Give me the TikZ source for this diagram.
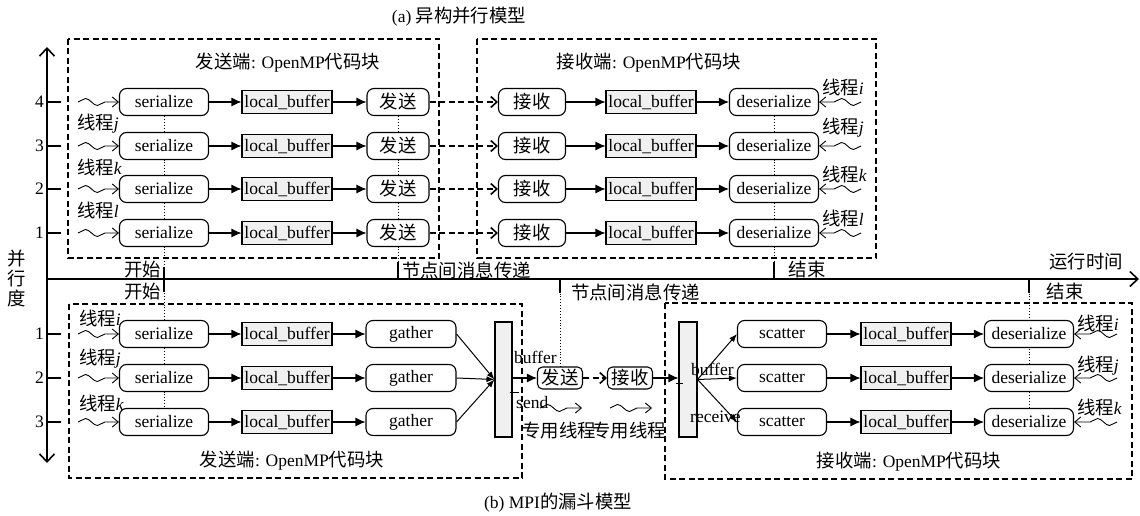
\documentclass[tikz,border=0pt]{standalone}
\usepackage{fontspec}
\setmainfont{Liberation Serif}
\newfontfamily\cjk[Scale=1.05]{Noto Sans CJK SC}
\usetikzlibrary{arrows.meta,decorations.pathmorphing,positioning,backgrounds}
\newcommand{\zh}[1]{{\cjk #1}}
\tikzset{
  proc/.style={draw, rounded corners=7pt, line width=1.1pt, fill=white, minimum width=89pt, minimum height=27pt, inner sep=1pt},
  buf/.style={draw, line width=1.1pt, fill=gray!12, minimum width=90pt, minimum height=23pt, inner sep=1pt},
  bar/.style={draw, line width=1.1pt, fill=gray!12, minimum width=17pt, minimum height=115pt, inner sep=0pt},
  blk/.style={draw, line width=1.6pt, dash pattern=on 6pt off 3.5pt},
  flow/.style={-{Latex[length=10pt,width=9pt]}, line width=1.1pt},
  fan/.style={-{Latex[length=8pt,width=6pt]}, line width=1pt},
  msg/.style={-{Straight Barb[length=6pt,width=11pt]}, line width=1.6pt, dash pattern=on 6pt off 3.5pt},
  thr/.style={-{Straight Barb[length=6pt,width=10pt]}, line width=0.9pt, decorate,
    decoration={snake, amplitude=3.5pt, segment length=24pt, post length=6pt}},
  axis/.style={line width=1.6pt},
  tk/.style={line width=1.6pt},
  guide/.style={dotted, line width=0.9pt},
  lbl/.style={inner sep=1pt},
}
\begin{document}
\begin{tikzpicture}[x=1pt, y=-1pt, font=\fontsize{17.5}{20}\selectfont]
\useasboundingbox (0,0) rectangle (1140,516);

% axes
\coordinate (ytop) at (47,47);
\coordinate (ybot) at (47,463);
\coordinate (o) at (47,279);
\coordinate (xend) at (1139,279);
\draw[axis, {Straight Barb[length=8pt,width=15pt]}-{Straight Barb[length=8pt,width=15pt]}] (ybot) -- (ytop);
\draw[axis, -{Straight Barb[length=8pt,width=15pt]}] (o) -- (xend);
\node[lbl, align=center] (pdeg) at (17,278) {\zh{并}\\\zh{行}\\\zh{度}};
\node[lbl] (rtime) at (1086,262) {\zh{运行时间}};

% captions
\node[lbl] (capa) at (459,17) {(a) \zh{异构并行模型}};
\node[lbl] (capb) at (558,503) {(b) MPI\zh{的漏斗模型}};

% code blocks
\draw[blk] (68,39) rectangle (439,258);
\draw[blk] (477,39) rectangle (876,258);
\draw[blk] (69,304) rectangle (522,478);
\draw[blk] (665,303) rectangle (1132,479);
\node[lbl] (ta1) at (288,63) {\zh{发送端}: OpenMP\zh{代码块}};
\node[lbl] (ta2) at (649,63) {\zh{接收端}: OpenMP\zh{代码块}};
\node[lbl] (tb1) at (292,461) {\zh{发送端}: OpenMP\zh{代码块}};
\node[lbl] (tb2) at (909,462) {\zh{接收端}: OpenMP\zh{代码块}};

% (a) heterogeneous model
\foreach \r/\y in {4/102,3/146,2/189,1/233}{
  \draw[tk] (47,\y) -- (61,\y);
  \node[lbl, anchor=east] (ya\r) at (45,\y) {\r};
  \node[proc] (as\r) at (164,\y) {serialize};
  \node[buf] (ab\r) at (287,\y) {local\_buffer};
  \node[proc, minimum width=62pt] (asd\r) at (398,\y) {\zh{发送}};
  \node[proc, minimum width=67pt] (arc\r) at (532,\y) {\zh{接收}};
  \node[buf] (abr\r) at (651,\y) {local\_buffer};
  \node[proc] (ad\r) at (774,\y) {deserialize};
  \draw[thr] ([xshift=-41pt]as\r.west) -- (as\r.west);
  \draw[flow] (as\r) -- (ab\r);
  \draw[flow] (ab\r) -- (asd\r);
  \draw[msg] (asd\r) -- (arc\r);
  \draw[flow] (arc\r) -- (abr\r);
  \draw[flow] (abr\r) -- (ad\r);
  \draw[thr] ([xshift=42pt]ad\r.east) -- (ad\r.east);
}
\foreach \t/\y in {j/124,k/167,l/210}
  \node[lbl, anchor=west] (tla\t) at (76,\y) {\zh{线程}\textit{\t}};
\foreach \t/\y in {i/87,j/128,k/174,l/218}
  \node[lbl, anchor=west] (tra\t) at (821,\y) {\zh{线程}\textit{\t}};

% (b) funnel model
\node[bar] (barL) at (503.5,379.5) {};
\node[bar, minimum width=18pt] (barR) at (688,379.5) {};
\node[proc, minimum width=45pt, minimum height=22pt, rounded corners=5pt] (bsd) at (560,378) {\zh{发送}};
\node[proc, minimum width=45pt, minimum height=22pt, rounded corners=5pt] (brc) at (630,378) {\zh{接收}};
\foreach \r/\y in {1/334,2/378,3/422}{
  \draw[tk] (47,\y) -- (61,\y);
  \node[lbl, anchor=east] (yb\r) at (45,\y) {\r};
  \node[proc] (bs\r) at (164,\y) {serialize};
  \node[buf] (bb\r) at (287,\y) {local\_buffer};
  \node[proc, minimum width=90pt] (bg\r) at (411,\y) {gather};
  \node[proc] (bsc\r) at (782,\y) {scatter};
  \node[buf] (bbr\r) at (906,\y) {local\_buffer};
  \node[proc] (bd\r) at (1029,\y) {deserialize};
  \draw[thr] ([xshift=-41pt]bs\r.west) -- (bs\r.west);
  \draw[flow] (bs\r) -- (bb\r);
  \draw[flow] (bb\r) -- (bg\r);
  \draw[fan] (bg\r.east) -- (barL.west);
  \draw[fan] (barR.east) -- (bsc\r.west);
  \draw[flow] (bsc\r) -- (bbr\r);
  \draw[flow] (bbr\r) -- (bd\r);
  \draw[thr] ([xshift=43pt]bd\r.east) -- (bd\r.east);
}
\foreach \t/\y in {i/318,j/359,k/403}
  \node[lbl, anchor=west] (tlb\t) at (78,\y) {\zh{线程}\textit{\t}};
\foreach \t/\y in {i/323,j/366,k/407}
  \node[lbl, anchor=west] (trb\t) at (1076,\y) {\zh{线程}\textit{\t}};

\draw[flow] (barL.east |- bsd.west) -- (bsd.west);
\draw[msg] (bsd) -- (brc);
\draw[flow] (brc.east) -- (brc.east -| barR.west);
\draw[line width=0.8pt] ([xshift=-3pt,yshift=-12.5pt]barL.east) -- ++(9pt,0);
\draw[line width=0.8pt] ([xshift=-22pt,yshift=-3.5pt]barR.east) -- ++(7pt,0);
\node[lbl, anchor=west] (bufL) at (513,357) {buffer};
\node[lbl, anchor=west] (sendL) at (515,403) {send};
\node[lbl, anchor=west] (bufR) at (690,369) {buffer};
\node[lbl, anchor=west] (recvR) at (689,417) {receive};
\draw[thr] ([xshift=-20pt,yshift=-30pt]bsd.center) -- ++(42pt,0);
\draw[thr] ([xshift=-20pt,yshift=-30pt]brc.center) -- ++(42pt,0);
\node[lbl] (dtl) at (559,431) {\zh{专用线程}};
\node[lbl] (dtr) at (629,431) {\zh{专用线程}};

% time line marks
\draw[tk] (164,267) -- (164,292);
\node[lbl, anchor=east] (st1) at (162,270) {\zh{开始}};
\node[lbl, anchor=east] (st2) at (162,292) {\zh{开始}};
\draw[tk] (asd4.south |- 0,262) -- (asd4.south |- o);
\node[lbl, anchor=west] (mp1) at (401,270) {\zh{节点间消息传递}};
\draw[tk] (ad4.south |- 0,262) -- (ad4.south |- o);
\node[lbl] (en1) at (807,270) {\zh{结束}};
\draw[tk] (bsd.north |- o) -- (bsd.north |- 0,293);
\node[lbl, anchor=west] (mp2) at (570,292) {\zh{节点间消息传递}};
\draw[tk] (bd1.north |- o) -- (bd1.north |- 0,293);
\node[lbl] (en2) at (1065,292) {\zh{结束}};

% dotted guides behind the boxes
\begin{scope}[on background layer]
  \draw[guide] (as4.south) -- (bs3.north);
  \draw[guide] (asd4.south) -- (asd4.south |- o);
  \draw[guide] (ad4.south) -- (ad4.south |- o);
  \draw[guide] (bsd.north |- o) -- (bsd.north);
  \draw[guide] (bd1.north |- o) -- (bd3.north);
\end{scope}
\end{tikzpicture}
\end{document}
